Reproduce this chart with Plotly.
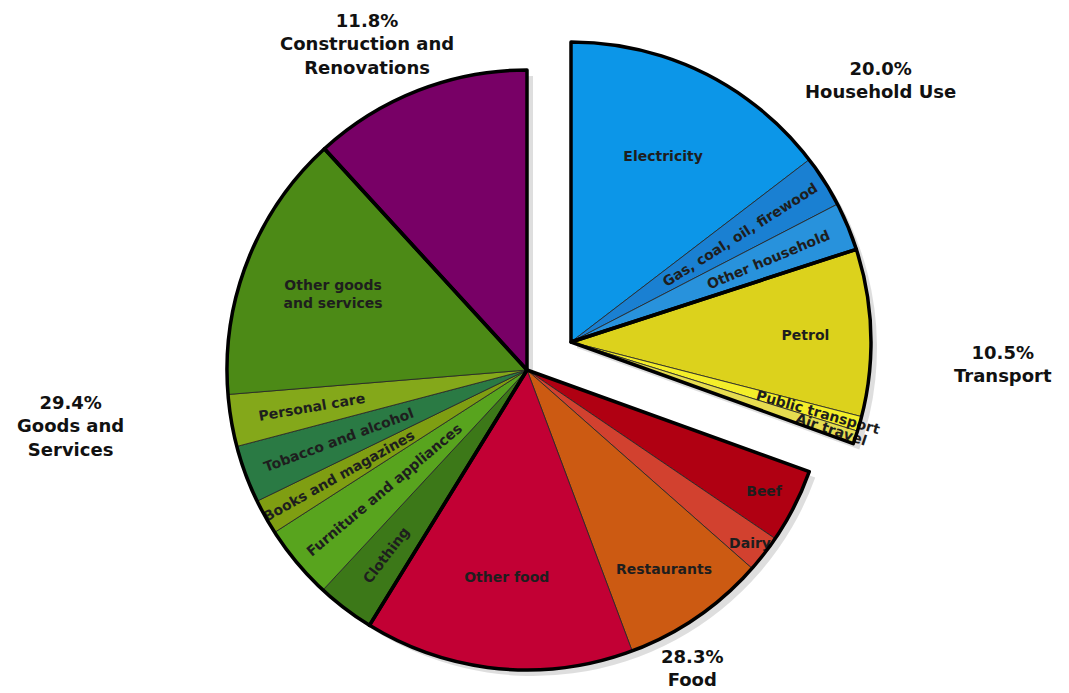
import plotly.graph_objects as go

W, H = 1069, 693

# ---------------- data ----------------
group_labels = ["Household Use", "Transport", "Food", "Goods and<br>Services", "Construction and<br>Renovations"]
group_pct = [20.0, 10.5, 28.3, 29.4, 11.8]

household_labels = ["Electricity", "Gas, coal, oil, firewood", "Other household"]
household_vals = [14.6, 2.8, 2.6]
household_colors = ["#0c96e8", "#1a80d2", "#2892dc"]

transport_labels = ["Petrol", "Public transport", "Air travel"]
transport_vals = [9.0, 0.8, 0.7]
transport_colors = ["#dcd21c", "#f4ee2a", "#e6dc50"]

food_labels = ["Beef", "Dairy", "Restaurants", "Other food"]
food_vals = [4.0, 2.0, 7.8, 14.5]
food_colors = ["#b00012", "#d2412f", "#cc5a12", "#c20034"]

goods_labels = ["Clothing", "Furniture and appliances", "Books and magazines",
                "Tobacco and alcohol", "Personal care", "Other goods and services"]
goods_vals = [3.1, 4.0, 1.9, 3.1, 2.8, 14.5]
goods_colors = ["#3c7818", "#58a41e", "#7f9e12", "#2a7a44", "#84a81a", "#4c8a16"]

construction_labels = ["Construction and Renovations"]
construction_vals = [11.8]
construction_colors = ["#780066"]

# labels shown inside, and the ones that run along the radius
display_text = {
    "Other goods and services": "Other goods<br>and services",
    "Construction and Renovations": "",
}
radial_labels = {"Gas, coal, oil, firewood", "Other household", "Public transport", "Air travel",
                 "Clothing", "Furniture and appliances", "Books and magazines",
                 "Tobacco and alcohol", "Personal care"}

# ---------------- layout helpers ----------------
R = 300
MAIN_C = (527, 370)
EXPL_C = (571, 342)
SHADOW_OFF = (6, 6)
CLEAR = "rgba(0,0,0,0)"
SHADOW = "rgba(0,0,0,0.13)"
TXT = dict(family="DejaVu Sans", size=14, color="#1e1e1e", weight="bold")


def domain(c, r, off=(0, 0)):
    cx, cy = c[0] + off[0], c[1] + off[1]
    return dict(x=[(cx - r) / W, (cx + r) / W], y=[(H - cy - r) / H, (H - cy + r) / H])


def base_pie(labels, vals, dom, colors, line, **kw):
    return go.Pie(labels=labels, values=vals, sort=False, direction="clockwise", rotation=0,
                  domain=dom, marker=dict(colors=colors, line=line), showlegend=False, **kw)


def pie_traces(labels, vals, colors, widths, dom):
    horiz = [display_text.get(l, l) if (l not in radial_labels and not l.startswith("_")) else "" for l in labels]
    rad = [display_text.get(l, l) if l in radial_labels else "" for l in labels]
    return [
        base_pie(labels, vals, dom, colors, dict(color="rgba(40,40,40,0.85)", width=widths),
                 text=horiz, textinfo="text", textposition="inside", insidetextorientation="horizontal",
                 textfont=TXT, hoverinfo="label+value"),
        base_pie(labels, vals, dom, [CLEAR] * len(labels), dict(width=0),
                 text=rad, textinfo="text", textposition="inside", insidetextorientation="radial",
                 textfont=TXT, hoverinfo="skip"),
    ]


def outline_trace(labels, vals, widths, dom):
    return base_pie(labels, vals, dom, [CLEAR] * len(labels), dict(color="#000000", width=widths),
                    textinfo="none", hoverinfo="skip")


rest_vals = food_vals + goods_vals + construction_vals
lifted_vals = household_vals + transport_vals

# main pie: food, goods, construction (household + transport left empty)
main_labels = ["_lifted"] + food_labels + goods_labels + construction_labels
main_vals = [sum(lifted_vals)] + rest_vals
main_colors = [CLEAR] + food_colors + goods_colors + construction_colors
main_w = [0] + [1] * len(rest_vals)

# exploded part: household + transport
expl_labels = household_labels + transport_labels + ["_rest"]
expl_vals = lifted_vals + [sum(rest_vals)]
expl_colors = household_colors + transport_colors + [CLEAR]
expl_w = [1] * len(lifted_vals) + [0]

fig = go.Figure()

# soft drop shadow behind both parts
fig.add_trace(base_pie(["_lifted", "_rest_s"], [sum(lifted_vals), sum(rest_vals)],
                       domain(MAIN_C, R, SHADOW_OFF), [CLEAR, SHADOW], dict(width=0),
                       textinfo="none", hoverinfo="skip"))
fig.add_trace(base_pie(["_lifted_s", "_rest"], [sum(lifted_vals), sum(rest_vals)],
                       domain(EXPL_C, R, SHADOW_OFF), [SHADOW, CLEAR], dict(width=0),
                       textinfo="none", hoverinfo="skip"))

for t in pie_traces(main_labels, main_vals, main_colors, main_w, domain(MAIN_C, R)):
    fig.add_trace(t)
for t in pie_traces(expl_labels, expl_vals, expl_colors, expl_w, domain(EXPL_C, R)):
    fig.add_trace(t)

fig.add_trace(outline_trace(["_lifted", "Food", "Goods and Services", "Construction and Renovations"],
                            [sum(lifted_vals), sum(food_vals), sum(goods_vals), sum(construction_vals)],
                            [0, 3.5, 3.5, 3.5], domain(MAIN_C, R)))
fig.add_trace(outline_trace(["Household Use", "Transport", "_rest"],
                            [sum(household_vals), sum(transport_vals), sum(rest_vals)],
                            [3.5, 3.5, 0], domain(EXPL_C, R)))

# group labels
label_pos = [(880, 80), (1003, 364), (692, 668), (70, 426), (367, 44)]
for name, pct, (px, py) in zip(group_labels, group_pct, label_pos):
    fig.add_annotation(x=px / W, y=1 - py / H, xref="paper", yref="paper", showarrow=False,
                       text=f"{pct:.1f}%<br>{name}", align="center", xanchor="center", yanchor="middle",
                       font=dict(family="DejaVu Sans", size=18, color="#111111", weight="bold"))

fig.update_layout(width=W, height=H, margin=dict(l=0, r=0, t=0, b=0),
                  paper_bgcolor="#ffffff", plot_bgcolor="#ffffff", showlegend=False,
                  uniformtext=dict(minsize=14, mode="show"))

fig.write_html("out.html")
